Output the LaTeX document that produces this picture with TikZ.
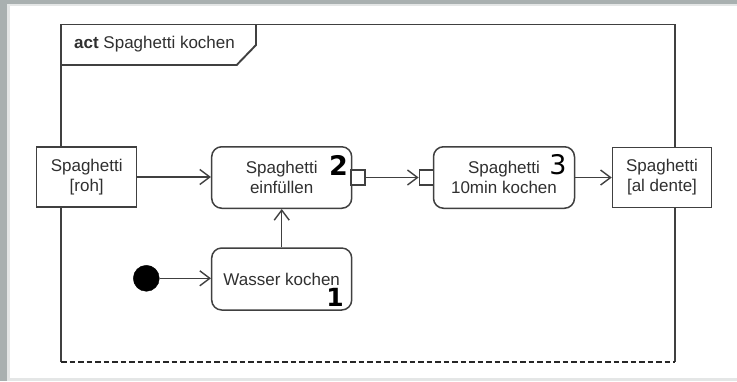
\documentclass[tikz,border=0pt]{standalone}
\usepackage{fontspec}
\setmainfont{Liberation Sans}
\newfontfamily\numfont{DejaVu Sans}
\usetikzlibrary{arrows.meta}
\definecolor{linec}{HTML}{404040}
\definecolor{textc}{HTML}{303030}
\definecolor{bgray}{HTML}{A9B0B0}
\definecolor{lgray}{HTML}{E4E6E6}
\tikzset{
  base/.style={draw=linec, line width=1.5pt, fill=white, text=textc, inner sep=0pt,
    font=\fontsize{17}{20}\selectfont, align=center},
  objbox/.style={base, rectangle, minimum width=100pt, minimum height=60pt},
  actbox/.style={base, rectangle, rounded corners=10pt, minimum width=140pt, minimum height=61.5pt},
  pinbox/.style={draw=linec, line width=1.3pt, fill=white, minimum width=14pt, minimum height=15pt, inner sep=0pt},
  initnode/.style={circle, fill=black, draw=black, minimum size=26pt, inner sep=0pt},
  flow/.style={draw=linec, line width=1.4pt, -{Straight Barb[length=10pt,width=15pt,line width=1.4pt]}},
  framel/.style={draw=linec, line width=1.9pt},
  numlbl/.style={text=black, inner sep=0pt}
}
\begin{document}
\begin{tikzpicture}[x=1pt,y=-1pt]
\useasboundingbox (0,0) rectangle (737,381);
% background
\fill[bgray] (0,0) rectangle (737,381);
\fill[lgray] (7,4) rectangle (737,381);
\fill[white] (10,6) rectangle (737,378);
% frame
\draw[framel] (61,362) -- (61,24.5) -- (675,24.5) -- (675,362);
\draw[draw=black!85, line width=2.4pt, dash pattern=on 5.5pt off 3pt] (61,362) -- (675,362);
\draw[framel] (61,65) -- (236.7,65) -- (256,45) -- (256,24.5);
\node[anchor=west, text=textc, inner sep=0pt, font=\fontsize{17}{20}\selectfont] (title) at (74,44.5) {\textbf{act} Spaghetti kochen};
% nodes
\node[objbox] (roh) at (86.7,177) {Spaghetti\\{}[roh]};
\node[actbox] (ein) at (281.7,177.5) {Spaghetti\\einfüllen};
\node[actbox, minimum width=141pt] (koch) at (504,177.5) {Spaghetti\\10min kochen};
\node[objbox, minimum width=99pt] (ald) at (662,177.5) {Spaghetti\\{}[al dente]};
\node[actbox, minimum height=62pt] (wass) at (281.7,279) {Wasser kochen};
\node[initnode] (init) at (146.3,278.3) {};
\node[pinbox] (outpin) at (358,177.5) {};
\node[pinbox] (inpin) at (426.3,177.5) {};
% numbers
\node[numlbl, font=\numfont\bfseries\fontsize{27}{27}\selectfont] (n2) at (338.5,165) {2};
\node[numlbl, font=\numfont\fontsize{27}{27}\selectfont] (n3) at (558,165) {3};
\node[numlbl, font=\numfont\bfseries\fontsize{25}{25}\selectfont] (n1) at (335,297.5) {1};
% flows
\draw[flow] (roh.east |- 0,177) -- (ein.west |- 0,177);
\draw[flow] (outpin.east) -- (inpin.west);
\draw[flow] (koch.east) -- (ald.west);
\draw[flow] (init.east) -- (wass.west |- init.east);
\draw[flow] (wass.north) -- (ein.south);
\end{tikzpicture}
\end{document}
